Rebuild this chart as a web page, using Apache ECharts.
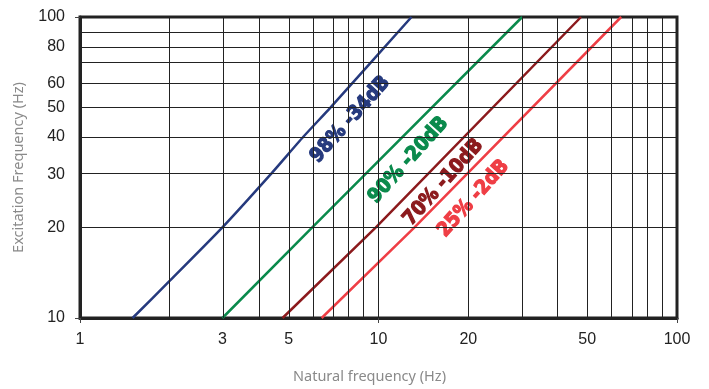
<!DOCTYPE html>
<html>
<head>
<meta charset="utf-8">
<script src="https://cdn.jsdelivr.net/npm/echarts@6/dist/echarts.min.js"></script>
<style>
html, body { margin: 0; padding: 0; background: #fff; }
#main { width: 709px; height: 389px; }
</style>
</head>
<body>
<div id="main"></div>
<script>
// values, in Hz (log-log chart)
var xTickLabels = [1, 3, 5, 10, 20, 50, 100];
var yTickLabels = [10, 20, 30, 40, 50, 60, 80, 100];
var xGrid = [2, 3, 4, 5, 6, 7, 8, 9, 10, 20, 30, 40, 50, 60, 70, 80, 90];
var yGrid = [20, 30, 40, 50, 60, 70, 80, 90];

var curveNames = ['98% -34dB', '90% -20dB', '70% -10dB', '25% -2dB'];
var curveColors = ['#263a7e', '#0a8a4c', '#8c1a1d', '#ef3e45'];
// [natural freq, excitation freq]
var curve98 = [[1.5, 10], [2, 13.3], [3, 20], [4.35, 30], [5.6, 40], [6.9, 50], [12.9, 100]];
var curve90 = [[3, 10], [6, 20], [30.3, 100]];
var curve70 = [[4.77, 10], [9.8, 20], [47.7, 100]];
var curve25 = [[6.45, 10], [13.2, 20], [65, 100]];
// where each label sits (natural, excitation)
var labelAt = [[8.05, 45.6], [12.6, 33.4], [16.5, 28.2], [20.8, 24.9]];

var lg = function (v) { return Math.log(v) / Math.LN10; };
var toLog = function (arr) { return arr.map(function (p) { return [lg(p[0]), lg(p[1])]; }); };

var curves = [curve98, curve90, curve70, curve25];

var myChart = echarts.init(document.getElementById('main'));

var series = [{
	type: 'line',
	data: [],
	silent: true,
	z: 1,
	markLine: {
		silent: true,
		symbol: ['none', 'none'],
		label: { show: false },
		animation: false,
		lineStyle: { color: '#222', width: 1, type: 'solid' },
		data: xGrid.map(function (v) { return { xAxis: lg(v) }; })
			.concat(yGrid.map(function (v) { return { yAxis: lg(v) }; }))
	}
}];

curves.forEach(function (c, i) {
	series.push({
		type: 'line',
		name: curveNames[i],
		data: toLog(c),
		showSymbol: false,
		smooth: i === 0 ? 0.2 : false,
		z: 3,
		lineStyle: { color: curveColors[i], width: 2.5 }
	});
	series.push({
		type: 'scatter',
		data: [toLog([labelAt[i]])[0]],
		symbolSize: 0,
		itemStyle: { opacity: 1 },
		z: 4,
		label: {
			show: true,
			position: 'inside',
			formatter: curveNames[i],
			rotate: 48,
			color: curveColors[i],
			textBorderColor: curveColors[i],
			textBorderWidth: 1.2,
			fontFamily: "'Liberation Sans Narrow', 'DejaVu Sans Condensed', sans-serif",
			fontWeight: 'bold',
			fontSize: 20
		}
	});
});

option = {
	animation: false,
	grid: {
		left: 80, right: 32, top: 17, bottom: 70,
		show: true,
		borderColor: '#222',
		borderWidth: 3
	},
	xAxis: {
		type: 'value',
		min: 0,
		max: 2,
		name: 'Natural frequency (Hz)',
		nameLocation: 'middle',
		nameGap: 51,
		nameTextStyle: { color: '#8a8a8a', fontSize: 14.5, fontFamily: 'Noto Sans', padding: [0, 18, 0, 0] },
		axisLine: { show: true, onZero: false, lineStyle: { color: '#222', width: 3 } },
		axisTick: { show: true, customValues: [0, 1, 2], length: 5, lineStyle: { color: '#444', width: 1 } },
		axisLabel: {
			customValues: xTickLabels.map(lg),
			formatter: function (v) { return String(Math.round(Math.pow(10, v))); },
			color: '#222',
			fontSize: 16,
			fontFamily: 'Liberation Sans',
			margin: 14
		},
		splitLine: { show: false }
	},
	yAxis: {
		type: 'value',
		min: 1,
		max: 2,
		name: 'Excitation Frequency (Hz)',
		nameLocation: 'middle',
		nameRotate: 90,
		nameGap: 54,
		nameTextStyle: { color: '#8a8a8a', fontSize: 14.5, fontFamily: 'Noto Sans' },
		axisLine: { show: true, onZero: false, lineStyle: { color: '#222', width: 3 } },
		axisTick: { show: true, customValues: [1, 2], length: 5, lineStyle: { color: '#444', width: 1 } },
		axisLabel: {
			customValues: yTickLabels.map(lg),
			formatter: function (v) { return String(Math.round(Math.pow(10, v))); },
			color: '#222',
			fontSize: 16,
			fontFamily: 'Liberation Sans',
			margin: 15
		},
		splitLine: { show: false }
	},
	series: series
};

myChart.setOption(option);
window.onresize = myChart.resize;
</script>
</body>
</html>
